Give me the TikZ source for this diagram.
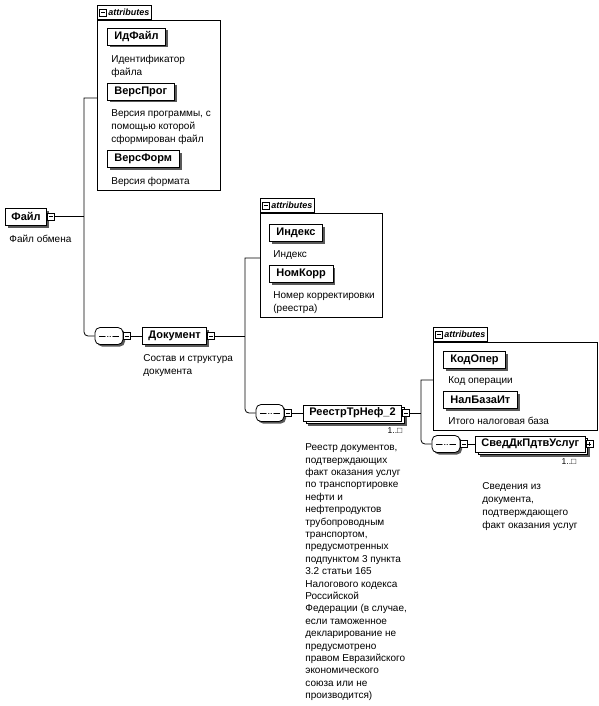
\documentclass[tikz,border=0pt]{standalone}
\usepackage{fontspec}
\setmainfont{Liberation Sans}
\usetikzlibrary{positioning,shadows}

\newcommand{\descfont}{\fontsize{10}{13}\selectfont}

\begin{document}
\begin{tikzpicture}[
  x=1pt, y=-1pt, line width=0.8pt,
  elem/.style={draw, fill=white, font=\bfseries\fontsize{11}{13}\selectfont, minimum height=17pt, inner xsep=6pt, inner ysep=0pt,
    drop shadow={shadow xshift=2.5pt, shadow yshift=-2.5pt, fill=black!65, opacity=1}},
  attr/.style={elem, inner xsep=7pt},
  multi/.style={draw, fill=white, font=\bfseries\fontsize{11}{13}\selectfont, minimum height=16pt, inner xsep=6pt, inner ysep=0pt,
    drop shadow={shadow xshift=5pt, shadow yshift=-5pt, fill=black!65, opacity=1},
    copy shadow={shadow xshift=2.5pt, shadow yshift=-2.5pt, draw=black, fill=white, opacity=1}},
  comp/.style={draw, fill=white, rounded corners=5pt, minimum width=28pt, minimum height=17pt, inner sep=0pt,
    drop shadow={shadow xshift=2pt, shadow yshift=-2pt, fill=black!65, opacity=1},
    path picture={
      \draw[sharp corners] ([xshift=4pt]path picture bounding box.west) -- ([xshift=-4pt]path picture bounding box.east);
      \foreach \d in {-2.6,0,2.6} \fill ([xshift=\d pt]path picture bounding box.center) circle (1.2pt);}},
  btn/.style={draw, fill=white, minimum size=7pt, inner sep=0pt, line width=0.6pt,
    path picture={\draw ([xshift=1.5pt]path picture bounding box.west) -- ([xshift=-1.5pt]path picture bounding box.east);}},
  btnplus/.style={draw, fill=white, minimum size=7pt, inner sep=0pt, line width=0.6pt,
    path picture={\draw ([xshift=1.5pt]path picture bounding box.west) -- ([xshift=-1.5pt]path picture bounding box.east);
      \draw ([yshift=1.5pt]path picture bounding box.south) -- ([yshift=-1.5pt]path picture bounding box.north);}},
  group/.style={draw, fill=white, inner sep=0pt, anchor=north west},
  tab/.style={draw, fill=white, font=\bfseries\itshape\fontsize{9}{10}\selectfont, minimum height=14pt, inner xsep=2pt, inner ysep=0pt},
  desc/.style={align=left, inner sep=0pt, font=\descfont},
  mult/.style={inner sep=0pt, font=\fontsize{8.5}{10}\selectfont}
]
\useasboundingbox (0,0) rectangle (599,706);

% Файл
\node[elem, anchor=west] (fajl) at (5,216.5) {Файл};
\node[btn, right=0pt of fajl] (fajlbtn) {};
\node[desc, below right=9pt and 4pt of fajl.south west] (fajldesc) {Файл обмена};

% attributes of Файл
\node[group, minimum width=123pt, minimum height=170pt] (attrA) at (97,20) {};
\node[tab, above right=0pt and 0pt of attrA.north west] (attrAtab) {\hspace*{9pt}attributes};
\node[btn, right=2pt of attrAtab.west] (attrAbtn) {};
\node[attr, anchor=west] (idfajl) at (107,36.5) {ИдФайл};
\node[desc, below right=9pt and 4pt of idfajl.south west] (idfajldesc) {Идентификатор\\файла};
\node[attr, anchor=west] (versprog) at (107,91.5) {ВерсПрог};
\node[desc, below right=9pt and 4pt of versprog.south west] (versprogdesc) {Версия программы, с\\помощью которой\\сформирован файл};
\node[attr, anchor=west] (versform) at (107,158.5) {ВерсФорм};
\node[desc, below right=9pt and 4pt of versform.south west] (versformdesc) {Версия формата};

% Документ
\node[comp] (seqA) at (109,336) {};
\node[btn, right=0pt of seqA] (seqAbtn) {};
\node[elem, anchor=west] (dokument) at (142,336) {Документ};
\node[btn, right=0pt of dokument] (dokbtn) {};
\node[desc, below right=9pt and 1pt of dokument.south west] (dokdesc) {Состав и структура\\документа};

\node[group, minimum width=122pt, minimum height=104pt] (attrB) at (260,213) {};
\node[tab, above right=0pt and 0pt of attrB.north west] (attrBtab) {\hspace*{9pt}attributes};
\node[btn, right=2pt of attrBtab.west] (attrBbtn) {};
\node[attr, anchor=west] (indeks) at (269,232.5) {Индекс};
\node[desc, below right=9pt and 4pt of indeks.south west] (indeksdesc) {Индекс};
\node[attr, anchor=west] (nomkorr) at (269,273.5) {НомКорр};
\node[desc, below right=9pt and 4pt of nomkorr.south west] (nomkorrdesc) {Номер корректировки\\(реестра)};

% РеестрТрНеф_2
\node[comp] (seqB) at (270,413) {};
\node[btn, right=0pt of seqB] (seqBbtn) {};
\node[multi, anchor=west] (reestr) at (303,413) {РеестрТрНеф\_2};
\node[btn, right=0pt of reestr] (reestrbtn) {};
\node[mult, below left=10pt and 7pt of reestrbtn.south east] (reestrmult) {1..□};
\node[desc, font=\fontsize{10}{12.4}\selectfont, below right=22pt and 2pt of reestr.south west] (reestrdesc)
  {Реестр документов,\\подтверждающих\\факт оказания услуг\\по транспортировке\\нефти и\\нефтепродуктов\\трубопроводным\\транспортом,\\предусмотренных\\подпунктом 3 пункта\\3.2 статьи 165\\Налогового кодекса\\Российской\\Федерации (в случае,\\если таможенное\\декларирование не\\предусмотрено\\правом Евразийского\\экономического\\союза или не\\производится)};

\node[group, minimum width=164pt, minimum height=88pt] (attrC) at (433,342) {};
\node[tab, above right=0pt and 0pt of attrC.north west] (attrCtab) {\hspace*{9pt}attributes};
\node[btn, right=2pt of attrCtab.west] (attrCbtn) {};
\node[attr, anchor=west] (kodoper) at (443,360) {КодОпер};
\node[desc, below right=7pt and 5pt of kodoper.south west] (kodoperdesc) {Код операции};
\node[attr, anchor=west] (nalbaza) at (443,399.5) {НалБазаИт};
\node[desc, below right=8pt and 5pt of nalbaza.south west] (nalbazadesc) {Итого налоговая база};

% СведДкПдтвУслуг
\node[comp] (seqC) at (446,444) {};
\node[btn, right=0pt of seqC] (seqCbtn) {};
\node[multi, anchor=west] (sved) at (475,444) {СведДкПдтвУслуг};
\node[btnplus, right=0pt of sved] (svedbtn) {};
\node[mult, below left=6pt and 9pt of sved.south east] (svedmult) {1..□};
\node[desc, below right=30pt and 7pt of sved.south west] (sveddesc) {Сведения из\\документа,\\подтверждающего\\факт оказания услуг};

% connectors
\coordinate (busA) at (84,98);
\coordinate (busB) at (245,258);
\coordinate (busC) at (421,380);
\draw (fajlbtn) -- (fajlbtn -| busA);
\draw (busA -| attrA.west) -- (busA) [rounded corners=4pt] |- (seqA);
\draw (dokbtn) -- (dokbtn -| busB);
\draw (busB -| attrB.west) -- (busB) [rounded corners=4pt] |- (seqB);
\draw (reestrbtn) -- (reestrbtn -| busC);
\draw (busC -| attrC.west) -- (busC) [rounded corners=4pt] |- (seqC);
\foreach \a/\b in {seqAbtn/dokument, seqBbtn/reestr, seqCbtn/sved}
  \draw (\a) -- (\b);
\end{tikzpicture}
\end{document}
